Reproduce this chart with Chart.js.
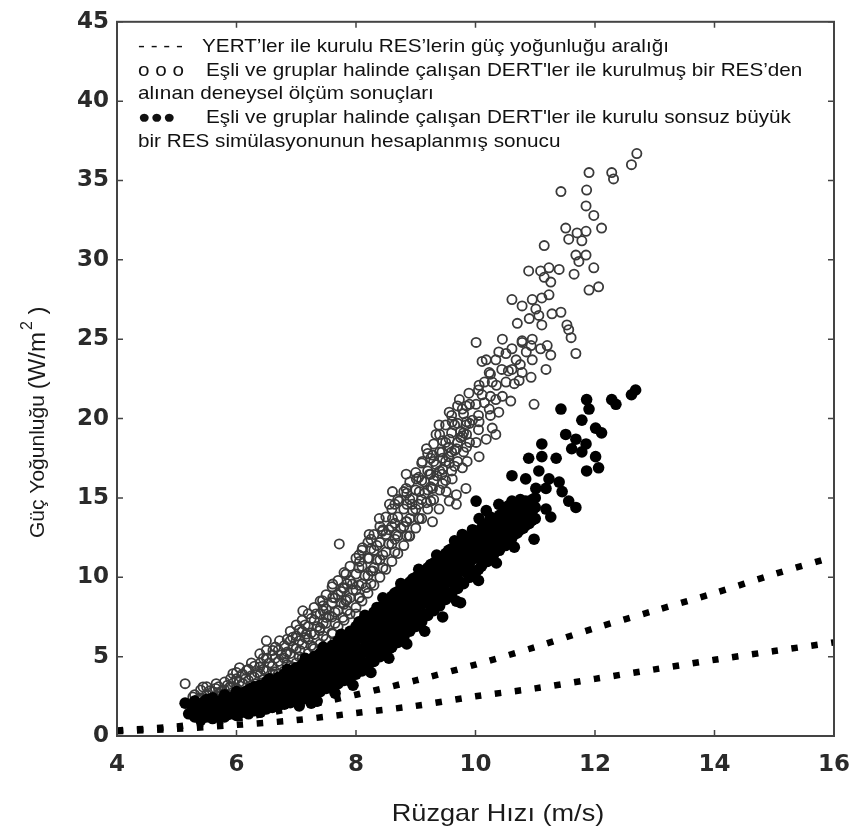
<!DOCTYPE html>
<html><head><meta charset="utf-8">
<script src="https://cdn.jsdelivr.net/npm/chart.js@4.4.1/dist/chart.umd.min.js"></script>
<style>html,body{margin:0;padding:0;background:#fff}#wrap{width:865px;height:830px}</style>
</head><body><div id="wrap"><canvas id="c" width="865" height="830"></canvas></div>
<script>
// ---- Data ----
const xTicks = [4, 6, 8, 10, 12, 14, 16];
const yTicks = [0, 5, 10, 15, 20, 25, 30, 35, 40, 45];

const legendLines = [
  ["- - - -", "YERT’ler ile kurulu RES’lerin güç yoğunluğu aralığı"],
  ["o o o", "Eşli ve gruplar halinde çalışan DERT'ler ile kurulmuş bir RES’den"],
  ["", "alınan deneysel ölçüm sonuçları"],
  ["●●●", "Eşli ve gruplar halinde çalışan DERT'ler ile kurulu sonsuz büyük"],
  ["", "bir RES simülasyonunun hesaplanmış sonucu"]
];
const xTitle = "Rüzgar Hızı (m/s)";
const yTitleMain = "Güç Yoğunluğu ";
const yTitleUnit = "(W/m";
const yTitleSup = "2";
const yTitleEnd = " )";

// YERT range lines (upper and lower bound)
const rangeX = [4, 5, 6, 7, 8, 9, 10, 11, 12, 13, 14, 15, 16];
const rangeUpper = [0.35, 0.6, 1.1, 1.8, 2.6, 3.5, 4.5, 5.6, 6.8, 7.9, 9.0, 10.2, 11.3];
const rangeLower = [0.3, 0.45, 0.7, 1.0, 1.45, 1.9, 2.5, 3.0, 3.6, 4.2, 4.8, 5.35, 5.9];

// Measured (hollow circles)
const measuredPts = [
 [5.14,3.3],[5.27,2.46],[5.3,2.0],[5.3,2.6],[5.4,1.8],[5.4,2.4],[5.4,2.9],[5.44,3.09],[5.5,2.0],[5.5,2.6],[5.5,3.1],
 [5.6,2.2],[5.6,2.8],[5.66,3.3],[5.7,2.0],[5.7,2.5],[5.72,2.68],[5.7,3.1],[5.8,2.3],[5.8,2.9],[5.8,3.4],
 [5.89,3.09],[5.9,2.5],[5.9,3.1],[5.9,3.6],[5.94,3.93],[5.94,2.46],[6.0,2.4],[6.0,3.0],[6.0,3.6],[6.0,4.0],
 [6.1,2.6],[6.1,3.3],[6.1,3.9],[6.11,3.3],[6.17,4.14],[6.2,2.8],[6.2,3.5],[6.2,4.2],[6.3,3.0],[6.3,3.7],[6.3,4.4],
 [6.33,3.3],[6.39,4.34],[6.39,5.18],[6.4,3.2],[6.4,3.9],[6.4,4.6],[6.5,3.4],[6.5,4.1],[6.5,4.9],[6.5,5.4],[6.5,6.0],
 [6.6,3.6],[6.6,4.4],[6.6,5.1],[6.61,3.93],[6.61,5.39],[6.7,3.9],[6.7,4.7],[6.7,5.4],[6.72,6.0],[6.78,3.72],
 [6.8,4.1],[6.8,4.9],[6.8,5.7],[6.83,5.18],[6.9,4.4],[6.9,5.2],[6.9,6.0],[6.9,6.6],[6.94,4.34],[6.94,6.22],
 [7.0,4.6],[7.0,5.5],[7.0,6.3],[7.0,7.0],[7.06,5.39],[7.1,4.9],[7.1,5.8],[7.1,6.6],[7.1,7.3],[7.11,7.89],
 [7.17,6.43],[7.2,5.2],[7.2,6.1],[7.2,6.9],[7.2,7.7],[7.28,5.6],[7.3,5.5],[7.3,6.4],[7.3,7.3],[7.3,8.1],[7.33,7.69],
 [7.39,6.64],[7.4,5.8],[7.4,6.8],[7.4,7.7],[7.4,8.5],[7.44,8.52],[7.5,6.1],[7.5,7.1],[7.5,8.0],[7.5,8.9],[7.5,7.47],[7.5,5.39],
 [7.6,6.5],[7.6,7.5],[7.6,8.4],[7.6,9.4],[7.61,9.57],[7.61,8.73],[7.61,6.43],[7.7,6.9],[7.7,7.9],[7.7,8.9],[7.7,9.8],[7.72,12.1],
 [7.78,9.35],[7.78,7.47],[7.8,7.3],[7.8,8.3],[7.8,9.3],[7.8,10.3],[7.83,10.2],[7.83,8.52],[7.9,7.7],[7.9,8.7],[7.9,9.8],[7.9,10.7],
 [7.94,9.57],[8.0,8.1],[8.0,9.2],[8.0,10.2],[8.0,11.2],[8.0,7.69],[8.06,11.0],[8.06,8.73],[8.1,8.5],[8.1,9.6],[8.1,10.7],[8.1,11.7],
 [8.11,11.86],[8.17,9.35],[8.2,9.0],[8.2,10.1],[8.2,11.2],[8.2,12.2],[8.22,11.2],[8.22,12.7],[8.28,10.4],[8.3,9.5],[8.3,10.6],[8.3,11.7],[8.3,12.7],
 [8.39,13.7],[8.4,10.0],[8.4,11.1],[8.4,12.2],[8.4,13.2],[8.44,12.9],[8.5,10.5],[8.5,11.6],[8.5,12.7],[8.5,13.8],
 [8.56,14.6],[8.6,11.0],[8.6,12.1],[8.6,13.2],[8.6,14.3],[8.61,15.4],[8.61,13.7],[8.67,12.7],[8.7,11.5],[8.7,12.6],[8.7,13.8],[8.7,14.9],
 [8.72,14.8],[8.8,12.0],[8.8,13.2],[8.8,14.3],[8.8,15.4],[8.84,16.5],[8.84,15.6],[8.84,13.5],[8.89,12.6],[8.9,12.6],[8.9,13.7],[8.9,14.9],[8.9,16.0],
 [8.94,14.6],[9.0,13.1],[9.0,14.3],[9.0,15.5],[9.0,16.6],[9.01,16.2],[9.06,15.4],[9.06,13.7],[9.1,13.7],[9.1,14.9],[9.1,16.1],[9.1,17.2],
 [9.11,17.3],[9.18,18.1],[9.18,14.7],[9.2,14.3],[9.2,15.5],[9.2,16.7],[9.2,17.8],[9.23,16.5],[9.28,17.7],[9.28,15.6],[9.28,13.5],
 [9.3,14.9],[9.3,16.1],[9.3,17.3],[9.3,18.4],[9.34,19.0],[9.34,17.1],[9.39,19.6],[9.39,14.3],[9.4,15.5],[9.4,16.7],[9.4,17.9],[9.4,19.0],
 [9.44,17.9],[9.44,16.5],[9.5,16.1],[9.5,17.3],[9.5,18.5],[9.5,19.6],[9.51,15.4],[9.56,20.4],[9.56,18.7],[9.56,17.2],[9.56,14.8],
 [9.6,16.7],[9.6,17.9],[9.6,19.1],[9.6,20.2],[9.61,19.8],[9.61,16.2],[9.68,18.1],[9.68,15.2],[9.68,14.6],[9.7,17.3],[9.7,18.5],[9.7,19.7],[9.7,20.8],
 [9.73,21.2],[9.78,20.6],[9.78,18.9],[9.78,16.9],[9.8,17.9],[9.8,19.1],[9.8,20.3],[9.84,19.6],[9.84,15.6],[9.86,17.3],[9.89,21.6],
 [9.9,18.5],[9.9,19.7],[9.9,20.9],[10.01,24.8],[10.01,20.9],[10.01,18.5],[10.06,22.1],[10.06,19.8],[10.06,17.6],[10.11,23.6],[10.11,21.5],
 [10.18,18.7],[10.18,23.7],[10.23,22.9],[10.23,20.6],[10.28,22.3],[10.28,19.4],[10.34,23.7],[10.34,21.2],[10.34,19.0],[10.39,24.2],[10.39,20.4],
 [10.44,23.1],[10.51,24.1],[10.51,22.3],[10.59,21.1],[10.61,27.5],[10.61,24.4],[10.61,23.1],[10.68,23.7],[10.73,22.4],[10.78,27.1],[10.78,24.9],
 [10.78,24.8],[10.78,22.9],[10.89,29.3],[10.93,24.6],[10.93,22.6],[10.95,27.5],[10.95,23.7],[10.98,20.9],[11.01,26.9],[11.06,26.5],
 [11.09,29.3],[11.09,24.4],[11.11,27.6],[11.11,25.9],[11.15,30.9],[11.15,28.9],[11.18,23.1],[11.2,24.6],[11.23,29.5],[11.23,27.8],
 [11.26,28.6],[11.26,24.0],[11.28,26.6],[11.4,29.4],[11.43,34.3],[11.43,26.7],[11.51,32.0],[11.53,25.9],[11.56,31.3],[11.56,25.6],
 [11.6,25.1],[11.65,29.1],[11.68,30.3],[11.68,24.1],[11.7,31.7],[11.73,29.9],[11.78,31.2],[11.85,31.8],[11.85,30.3],[11.85,33.4],
 [11.86,34.4],[11.9,35.5],[11.9,28.1],[11.98,32.8],[11.98,29.5],[12.06,28.3],[12.11,32.0],[12.28,35.5],[12.31,35.1],[12.61,36.0],[12.7,36.7],
 [5.35,2.3],[5.55,2.85],[5.65,1.9],[5.75,2.8],[5.85,2.0],[5.95,3.35],[6.05,2.75],[6.15,3.6],[6.25,3.15],[6.35,4.0],[6.45,3.55],
 [6.55,4.6],[6.65,4.05],[6.75,5.1],[6.85,4.5],[6.95,5.6],[7.05,5.0],[7.15,6.2],[7.25,5.7],[7.35,6.9],[7.45,6.3],[7.55,7.6],
 [7.65,7.1],[7.75,8.4],[7.85,7.9],[7.95,9.2],[8.05,8.7],[8.15,10.1],[8.25,9.6],[8.35,11.1],[8.45,10.6],[8.55,12.1],[8.65,11.6],
 [8.75,13.1],[8.85,12.6],[8.95,14.2],[9.05,13.7],[9.15,15.3],[9.25,14.8],[9.35,16.4],[9.45,15.9],[9.55,17.6],[9.65,17.0],
 [9.75,18.8],[9.85,18.2],[9.95,19.9],[10.05,19.3],[10.15,21.0],[10.25,20.2],[10.35,22.1],[10.45,21.4],[10.55,23.0],[10.65,22.2],
 [10.75,23.4],[10.85,24.2],[10.95,25.0],[10.45,25.0],[10.7,26.0],[10.9,26.3],
 [7.15,7.0],[7.45,7.9],[7.75,9.1],[8.05,10.6],[8.35,12.0],[8.65,13.4],[8.95,15.0],[9.25,16.5],[9.55,18.2],[9.85,19.8],[10.15,22.3],
 [8.25,11.8],[8.55,13.0],[8.85,14.6],[9.15,16.0],[9.45,17.5],[9.75,19.2],
 [5.65,2.4],[5.65,3.0],[5.85,2.6],[5.85,3.2],[6.05,3.4],[6.05,4.3],[6.25,3.8],[6.25,4.6],[6.45,4.2],[6.45,4.9],
 [6.65,4.9],[6.65,5.6],[6.85,5.3],[6.85,6.1],[7.05,6.0],[7.05,6.7],[7.25,6.5],[7.25,7.4],[7.45,7.1],[7.45,8.2],
 [7.65,7.8],[7.65,8.7],[7.85,8.6],[7.85,9.6],[8.05,9.5],[8.05,11.4],[8.25,10.4],[8.25,12.4],[8.45,11.4],[8.45,13.0],
 [8.65,12.4],[8.65,14.6],[8.85,13.5],[8.85,15.3],[9.05,14.6],[9.05,16.3],[9.25,15.7],[9.25,17.5],[9.45,16.8],[9.45,18.6],
 [9.65,18.0],[9.65,19.6],[9.85,19.0],[9.85,20.8],[10.05,20.2],[10.05,21.8],[10.25,21.4],[10.25,22.8]
];

// Simulated (filled circles)
const simulatedPts = [
 [5.14,2.07],[5.2,1.4],[5.27,1.6],[5.3,1.2],[5.3,2.2],[5.4,1.0],[5.4,1.5],[5.4,2.0],[5.5,1.2],[5.5,1.7],[5.5,2.3],
 [5.6,1.1],[5.6,1.5],[5.6,1.9],[5.6,2.4],[5.7,1.3],[5.7,1.8],[5.7,2.2],[5.8,1.2],[5.8,1.6],[5.8,2.1],[5.8,2.6],
 [5.9,1.4],[5.9,1.9],[5.9,2.4],[6.0,1.3],[6.0,1.7],[6.0,2.2],[6.0,2.8],[6.1,1.5],[6.1,2.0],[6.1,2.5],
 [6.2,1.4],[6.2,1.8],[6.2,2.3],[6.2,2.9],[6.3,1.6],[6.3,2.1],[6.3,2.6],[6.3,3.1],[6.4,1.5],[6.4,2.0],[6.4,2.5],[6.4,3.2],
 [6.5,1.7],[6.5,2.2],[6.5,2.8],[6.5,3.4],[6.6,1.8],[6.6,2.4],[6.6,3.0],[6.6,3.5],[6.7,1.9],[6.7,2.5],[6.7,3.1],[6.7,3.7],
 [6.8,2.0],[6.8,2.6],[6.8,3.3],[6.8,3.9],[6.9,2.1],[6.9,2.8],[6.9,3.4],[6.9,4.1],[7.0,2.2],[7.0,2.9],[7.0,3.6],[7.0,4.3],
 [7.1,2.3],[7.1,3.0],[7.1,3.8],[7.1,4.5],[7.2,2.4],[7.2,3.2],[7.2,4.0],[7.2,4.7],[7.25,2.07],[7.3,2.6],[7.3,3.4],[7.3,4.2],[7.3,5.0],
 [7.4,2.8],[7.4,3.6],[7.4,4.4],[7.4,5.2],[7.5,3.0],[7.5,3.8],[7.5,4.6],[7.5,5.4],[7.6,3.1],[7.6,4.0],[7.6,4.9],[7.6,5.7],
 [7.7,3.3],[7.7,4.2],[7.7,5.1],[7.7,6.0],[7.8,3.5],[7.8,4.4],[7.8,5.4],[7.8,6.3],[7.89,3.5],[7.9,3.6],[7.9,4.7],[7.9,5.7],[7.9,6.6],
 [8.0,3.9],[8.0,4.9],[8.0,6.0],[8.0,6.9],[8.1,4.1],[8.1,5.2],[8.1,6.2],[8.1,7.2],[8.2,4.4],[8.2,5.5],[8.2,6.5],[8.2,7.5],
 [8.3,4.7],[8.3,5.8],[8.3,6.8],[8.3,7.8],[8.34,7.1],[8.4,5.0],[8.4,6.1],[8.4,7.1],[8.4,8.1],[8.5,5.3],[8.5,6.4],[8.5,7.4],[8.5,8.4],
 [8.56,5.5],[8.56,7.9],[8.6,5.6],[8.6,6.7],[8.6,7.7],[8.6,8.8],[8.7,5.9],[8.7,7.0],[8.7,8.0],[8.7,9.1],[8.78,8.7],[8.78,6.8],
 [8.8,6.2],[8.8,7.3],[8.8,8.4],[8.8,9.4],[8.9,6.6],[8.9,7.6],[8.9,8.7],[8.9,9.7],[9.0,6.9],[9.0,7.9],[9.0,9.0],[9.0,10.0],
 [9.06,9.6],[9.1,7.2],[9.1,8.3],[9.1,9.3],[9.1,10.3],[9.2,7.6],[9.2,8.6],[9.2,9.6],[9.2,10.6],[9.23,10.4],[9.3,7.9],[9.3,8.9],[9.3,9.9],[9.3,10.9],
 [9.4,8.2],[9.4,9.2],[9.4,10.2],[9.4,11.2],[9.44,11.0],[9.5,8.6],[9.5,9.6],[9.5,10.5],[9.5,11.5],[9.6,8.9],[9.6,9.9],[9.6,10.8],[9.6,11.8],
 [9.68,8.5],[9.7,9.3],[9.7,10.2],[9.7,11.1],[9.7,12.0],[9.78,12.7],[9.8,9.6],[9.8,10.5],[9.8,11.4],[9.8,12.3],[9.9,10.0],[9.9,10.9],[9.9,11.7],[9.9,12.5],
 [10.0,10.3],[10.0,11.2],[10.0,12.0],[10.0,12.8],[10.01,14.8],[10.06,13.7],[10.1,10.7],[10.1,11.5],[10.1,12.3],[10.1,13.1],
 [10.18,14.2],[10.2,11.0],[10.2,11.8],[10.2,12.6],[10.2,13.4],[10.28,13.5],[10.3,11.4],[10.3,12.1],[10.3,12.9],[10.3,13.6],
 [10.39,14.6],[10.4,11.7],[10.4,12.4],[10.4,13.2],[10.4,13.9],[10.5,12.0],[10.5,12.8],[10.5,13.5],[10.5,14.2],[10.59,12.5],
 [10.6,12.4],[10.6,13.1],[10.6,13.8],[10.6,14.5],[10.61,16.4],[10.61,14.8],[10.7,12.8],[10.7,13.5],[10.7,14.1],[10.7,14.7],
 [10.8,13.1],[10.8,13.8],[10.8,14.4],[10.84,16.2],[10.84,14.8],[10.89,17.5],[10.9,13.4],[10.9,14.1],[10.9,14.7],[10.98,12.4],
 [11.0,13.7],[11.0,14.4],[11.0,15.0],[11.01,15.6],[11.06,16.7],[11.11,18.4],[11.11,17.6],[11.18,15.6],[11.18,14.3],[11.23,16.2],
 [11.26,13.8],[11.35,17.5],[11.4,16.0],[11.43,20.6],[11.45,15.4],[11.51,19.0],[11.56,14.8],[11.61,18.1],[11.68,18.7],[11.68,14.4],
 [11.78,19.9],[11.78,17.9],[11.85,18.4],[11.86,21.2],[11.86,16.7],[11.9,20.6],[12.01,19.4],[12.01,17.6],[12.06,16.9],[12.11,19.1],
 [12.28,21.2],[12.35,20.9],[12.61,21.5],[12.68,21.8],
 [5.25,1.9],[5.35,1.45],[5.45,2.15],[5.55,1.35],[5.65,2.05],[5.75,1.55],[5.85,2.35],[5.95,1.65],[6.05,2.5],[6.15,1.75],
 [6.25,2.65],[6.35,1.85],[6.45,2.75],[6.55,2.0],[6.65,2.7],[6.75,2.2],[6.85,3.0],[6.95,2.45],[7.05,3.25],[7.15,2.65],
 [7.25,3.5],[7.35,2.95],[7.45,4.0],[7.55,3.4],[7.65,4.5],[7.75,3.85],[7.85,5.0],[7.95,4.2],[8.05,5.5],[8.15,4.6],
 [8.25,6.0],[8.35,5.3],[8.45,6.6],[8.55,6.0],[8.65,7.3],[8.75,6.5],[8.85,8.0],[8.95,7.1],[9.05,8.5],[9.15,7.7],
 [9.25,9.1],[9.35,8.4],[9.45,9.8],[9.55,9.0],[9.65,10.4],[9.75,9.7],[9.85,11.0],[9.95,10.4],[10.05,11.6],[10.15,11.1],
 [10.25,12.2],[10.35,11.8],[10.45,12.9],[10.55,12.6],[10.65,13.4],[10.75,13.0],[10.85,13.9],[10.95,13.6],
 [6.25,3.0],[6.55,3.6],[6.85,4.2],[7.15,4.9],[7.45,5.6],[7.75,6.4],[8.05,7.2],[8.35,8.1],[8.65,9.0],[8.95,9.9],
 [9.25,10.8],[9.55,11.7],[9.85,12.5],[10.15,13.3],[10.45,14.0],[10.75,14.9],[8.15,7.6],[8.45,8.7],[8.75,9.6],[9.05,10.5],
 [9.35,11.4],[9.65,12.3],[9.95,13.0],[10.25,13.8],[10.55,14.5],
 [7.05,1.9],[7.35,2.2],[7.65,2.7],[7.95,3.2],[8.25,4.0],[8.55,4.9],[8.85,5.8],[9.15,6.6],[9.45,7.5],[9.75,8.4],
 [10.05,9.8],[10.35,10.9],[10.65,11.9],
 [5.45,1.2],[5.45,1.75],[5.65,1.45],[5.75,2.0],[5.85,1.35],[5.85,1.8],[5.95,2.1],[6.05,1.5],[6.05,2.0],[6.15,2.3],[6.15,2.8],
 [6.35,2.4],[6.35,2.9],[6.45,1.9],[6.45,3.1],[6.55,2.5],[6.55,3.2],[6.65,2.1],[6.65,3.3],[6.75,2.9],[6.75,3.5],
 [6.85,2.3],[6.85,3.6],[6.95,3.1],[6.95,3.9],[7.05,2.6],[7.05,3.9],[7.15,3.4],[7.15,4.2],[7.25,2.9],[7.25,4.6],
 [7.35,3.7],[7.35,4.8],[7.45,3.2],[7.45,4.8],[7.55,4.3],[7.55,5.0],[7.65,3.6],[7.65,5.4],[7.75,4.6],[7.75,5.6],
 [7.85,4.0],[7.85,6.0],[7.95,5.2],[7.95,6.3],[8.05,4.4],[8.05,6.5],[8.15,5.6],[8.15,6.9],[8.25,5.0],[8.25,7.1],
 [8.35,6.5],[8.35,7.5],[8.45,5.7],[8.45,7.8],[8.55,7.0],[8.55,8.3],[8.65,6.3],[8.65,8.4],[8.75,7.6],[8.75,8.9],
 [8.85,7.0],[8.85,9.2],[8.95,8.3],[8.95,9.4],[9.05,7.6],[9.05,9.8],[9.15,8.9],[9.15,10.1],[9.25,8.2],[9.25,10.3],
 [9.35,9.6],[9.35,10.7],[9.45,8.9],[9.45,11.1],[9.55,10.2],[9.55,11.2],[9.65,9.5],[9.65,11.6],[9.75,10.8],[9.75,11.9],
 [9.85,10.3],[9.85,12.0],[9.95,11.4],[9.95,12.3],[10.05,10.5],[10.05,12.6],[10.15,12.0],[10.15,13.0],[10.25,11.5],[10.25,13.1],
 [10.35,12.6],[10.35,13.3],[10.45,12.1],[10.45,13.6],[10.55,13.2],[10.55,13.9],[10.65,12.7],[10.65,14.2],[10.75,13.7],[10.75,14.3],
 [10.85,13.3],[10.85,14.6],[10.95,14.2],[10.95,14.9]
];

// ---- Chart ----
const X0 = 117, X1 = 836, Y0 = 18, Y1 = 736, W = 865, H = 830;
const FONT = '"Liberation Sans", Arial, sans-serif';
const toXY = a => a.map(p => ({x: p[0], y: p[1]}));

function stretchedText(ctx, text, x, y, sx) {
  ctx.save();
  ctx.translate(x, y);
  ctx.scale(sx, 1);
  ctx.fillText(text, 0, 0);
  ctx.restore();
}

const framePlugin = {
  id: 'frame',
  afterDatasetsDraw(chart) {
    const {ctx, chartArea: a, scales: {x, y}} = chart;
    ctx.save();
    ctx.strokeStyle = '#444';
    ctx.lineWidth = 2;
    ctx.strokeRect(a.left, a.top, a.right - a.left, a.bottom - a.top);
    ctx.lineWidth = 1.5;
    const L = 6;
    ctx.beginPath();
    xTicks.forEach(v => {
      const px = x.getPixelForValue(v);
      ctx.moveTo(px, a.bottom); ctx.lineTo(px, a.bottom - L);
      ctx.moveTo(px, a.top); ctx.lineTo(px, a.top + L);
    });
    yTicks.forEach(v => {
      const py = y.getPixelForValue(v);
      ctx.moveTo(a.left, py); ctx.lineTo(a.left + L, py);
      ctx.moveTo(a.right, py); ctx.lineTo(a.right - L, py);
    });
    ctx.stroke();

    // legend text
    ctx.fillStyle = '#111';
    ctx.textBaseline = 'middle';
    ctx.textAlign = 'left';
    ctx.font = '19px ' + FONT;
    const ys = [47, 71, 94, 118, 142];
    legendLines.forEach((ln, i) => {
      if (ln[0]) {
        stretchedText(ctx, ln[0], 138, ys[i], 1.09);
        stretchedText(ctx, ln[1], i === 0 ? 202 : 206, ys[i], 1.09);
      } else {
        stretchedText(ctx, ln[1], 138, ys[i], 1.09);
      }
    });

    // x title
    ctx.fillStyle = '#1a1a1a';
    ctx.font = '24px ' + FONT;
    ctx.textAlign = 'center';
    stretchedText(ctx, xTitle, 498, 814, 1.13);

    // y title (rotated)
    ctx.save();
    ctx.translate(38, 538);
    ctx.rotate(-Math.PI / 2);
    ctx.textAlign = 'left';
    ctx.textBaseline = 'middle';
    ctx.font = '21px ' + FONT;
    ctx.fillText(yTitleMain, 0, 0);
    let w = ctx.measureText(yTitleMain).width;
    ctx.font = '24px ' + FONT;
    ctx.fillText(yTitleUnit, w, 0);
    w += ctx.measureText(yTitleUnit).width;
    ctx.font = '16px ' + FONT;
    ctx.fillText(yTitleSup, w + 2, -10);
    w += ctx.measureText(yTitleSup).width + 2;
    ctx.font = '24px ' + FONT;
    ctx.fillText(yTitleEnd, w, 0);
    ctx.restore();
    ctx.restore();
  }
};

new Chart(document.getElementById('c'), {
  type: 'scatter',
  data: {
    datasets: [
      {
        label: 'measured', data: toXY(measuredPts), order: 2,
        pointStyle: 'circle', pointRadius: 4.6, pointBorderWidth: 1.8,
        pointBackgroundColor: 'rgba(255,255,255,0)', pointBorderColor: '#3a3a3a'
      },
      {
        label: 'simulated', data: toXY(simulatedPts), order: 1,
        pointStyle: 'circle', pointRadius: 5.8, pointBorderWidth: 0,
        pointBackgroundColor: '#000', pointBorderColor: '#000'
      },
      {
        label: 'upper', type: 'line', data: rangeX.map((v, i) => ({x: v, y: rangeUpper[i]})), order: 3,
        borderColor: '#000', borderWidth: 6.5, borderDash: [6.5, 13.5], pointRadius: 0, fill: false, tension: 0.3
      },
      {
        label: 'lower', type: 'line', data: rangeX.map((v, i) => ({x: v, y: rangeLower[i]})), order: 3,
        borderColor: '#000', borderWidth: 6.5, borderDash: [6.5, 13.5], pointRadius: 0, fill: false, tension: 0.3
      }
    ]
  },
  options: {
    responsive: false, animation: false, devicePixelRatio: 1,
    layout: {padding: {left: 0, right: W - X1, top: Y0, bottom: 0}},
    plugins: {legend: {display: false}, tooltip: {enabled: false}},
    scales: {
      x: {
        type: 'linear', min: 4, max: 16,
        afterBuildTicks: s => { s.ticks = xTicks.map(v => ({value: v})); },
        afterFit: s => { s.height = H - Y1; },
        grid: {display: false, drawTicks: false},
        border: {display: false},
        ticks: {color: '#2a2a2a', padding: 15, font: {size: 23, weight: 'bold', family: '"DejaVu Sans", sans-serif'}, maxRotation: 0},
        title: {display: false}
      },
      y: {
        type: 'linear', min: 0, max: 45,
        afterBuildTicks: s => { s.ticks = yTicks.map(v => ({value: v})); },
        afterFit: s => { s.width = X0; },
        grid: {display: false, drawTicks: false},
        border: {display: false},
        ticks: {color: '#2a2a2a', padding: 8, font: {size: 23, weight: 'bold', family: '"DejaVu Sans", sans-serif'}},
        title: {display: false}
      }
    }
  },
  plugins: [framePlugin]
});
</script>
</body></html>
